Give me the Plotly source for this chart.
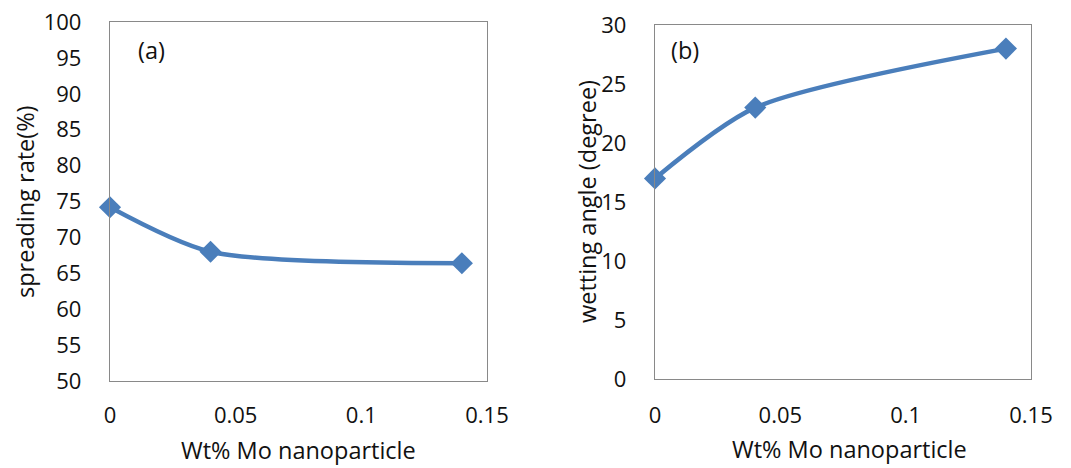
import plotly.graph_objects as go

wt = [0, 0.04, 0.14]
spreading = [74.2, 68.0, 66.4]
wetting = [17.0, 23.0, 28.0]
x_ticks = [0, 0.05, 0.1, 0.15]
x_ticklabels = ["0", "0.05", "0.1", "0.15"]
ya_ticks = list(range(50, 101, 5))
yb_ticks = list(range(0, 31, 5))

W, H = 1071, 468
FONT = "Open Sans"
COLOR = "#4A7EBB"
AXC = "#898989"

fig = go.Figure()
fig.add_trace(go.Scatter(x=wt, y=spreading, mode="lines+markers",
                         line=dict(color=COLOR, width=4.5, shape="spline", smoothing=0.75),
                         marker=dict(symbol="diamond", size=17, color=COLOR), cliponaxis=False, xaxis="x", yaxis="y"))
fig.add_trace(go.Scatter(x=wt, y=wetting, mode="lines+markers",
                         line=dict(color=COLOR, width=4.5, shape="spline", smoothing=0.75),
                         marker=dict(symbol="diamond", size=17, color=COLOR), cliponaxis=False, xaxis="x2", yaxis="y2"))

axcommon = dict(showgrid=False, zeroline=False, showline=True, linecolor=AXC, linewidth=1.3, mirror=True,
                ticks="", automargin=False, tickfont=dict(family=FONT, size=22, color="#111"))

fig.update_layout(
    width=W, height=H, margin=dict(l=0, r=0, t=0, b=0),
    paper_bgcolor="white", plot_bgcolor="white", showlegend=False,
    font=dict(family=FONT, size=22, color="#111"),
    xaxis=dict(domain=[110/W, 487/W], range=[0, 0.15], tickvals=x_ticks, ticktext=x_ticklabels,
               anchor="y", ticklabelstandoff=14, **axcommon),
    yaxis=dict(domain=[1-381/H, 1-22/H], range=[50, 100], tickvals=ya_ticks,
               anchor="x", ticklabelstandoff=23, **axcommon),
    xaxis2=dict(domain=[655/W, 1031/W], range=[0, 0.15], tickvals=x_ticks, ticktext=x_ticklabels,
                anchor="y2", ticklabelstandoff=16, **axcommon),
    yaxis2=dict(domain=[1-379/H, 1-25/H], range=[0, 30], tickvals=yb_ticks,
                anchor="x2", ticklabelstandoff=23, **axcommon),
)

ann = dict(showarrow=False, font=dict(family=FONT, size=23.5, color="#111"), xref="paper", yref="paper",
           xanchor="center", yanchor="middle")
fig.add_annotation(text="(a)", x=151/W, y=1-50/H, **ann)
fig.add_annotation(text="(b)", x=685/W, y=1-50/H, **ann)
bot = dict(ann, yanchor="bottom")
fig.add_annotation(text="Wt% Mo nanoparticle", x=298/W, y=0, **bot)
fig.add_annotation(text="Wt% Mo nanoparticle", x=849/W, y=1/H, **bot)
fig.add_annotation(text="spreading rate(%)", x=25/W, y=1-202/H, textangle=-90, **ann)
fig.add_annotation(text="wetting angle (degree)", x=587/W, y=1-202/H, textangle=-90, **ann)

fig.write_html("out.html")
